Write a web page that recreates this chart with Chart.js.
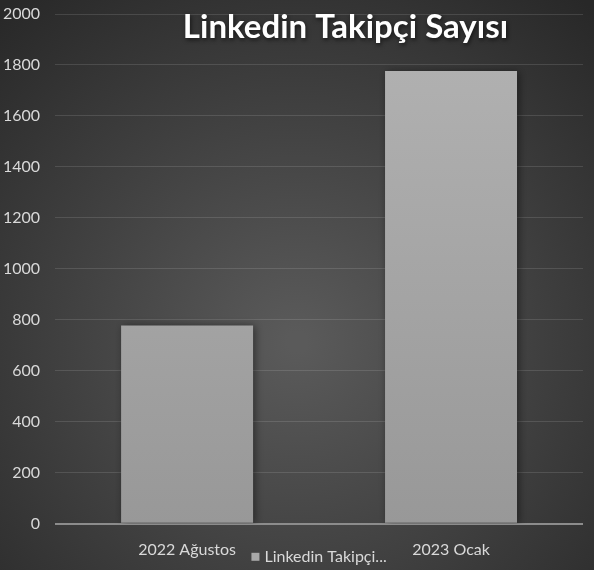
<!DOCTYPE html>
<html lang="tr">
<head>
  <meta charset="UTF-8" />
  <title>Linkedin Takipçi Sayısı</title>
  <script src="https://cdn.jsdelivr.net/npm/chart.js"></script>
  <style>
    html, body { margin: 0; padding: 0; background: #333; }
    #wrap { width: 594px; height: 570px; position: relative; }
  </style>
</head>
<body>
  <div id="wrap"><canvas id="takipciChart"></canvas></div>

  <script>
    // veriler
    const donemler = ['2022 Ağustos', '2023 Ocak'];
    const takipci = [778, 1776];
    const seriAdi = 'Linkedin Takipçi Sayısı';
    const baslik = 'Linkedin Takipçi Sayısı';

    const fontAile = 'Lato, "Open Sans", sans-serif';
    const yaziRengi = '#d9d9d9';

    // arka plan: koyu gri radyal degrade
    const arkaPlan = {
      id: 'arkaPlan',
      beforeDraw(chart) {
        const { ctx, width, height } = chart;
        const g = ctx.createRadialGradient(width * 0.5, height * 0.6, 10, width * 0.5, height * 0.6, width * 0.75);
        g.addColorStop(0, '#5a5a5a');
        g.addColorStop(1, '#282828');
        ctx.save();
        ctx.fillStyle = g;
        ctx.fillRect(0, 0, width, height);
        ctx.restore();
      }
    };

    // çubuk gölgesi
    const golge = {
      id: 'golge',
      beforeDatasetsDraw(chart) {
        const ctx = chart.ctx;
        ctx.save();
        ctx.shadowColor = 'rgba(0,0,0,0.45)';
        ctx.shadowBlur = 8;
        ctx.shadowOffsetX = 2;
        ctx.shadowOffsetY = 1;
      },
      afterDatasetsDraw(chart) {
        chart.ctx.restore();
      }
    };

    // başlık ve lejant (Excel gibi çizim alanının üstüne biniyor)
    const yazilar = {
      id: 'yazilar',
      afterDraw(chart) {
        const { ctx, chartArea } = chart;
        ctx.save();
        // başlık
        ctx.font = 'bold 33px ' + fontAile;
        ctx.textAlign = 'center';
        ctx.textBaseline = 'middle';
        ctx.shadowColor = 'rgba(0,0,0,0.6)';
        ctx.shadowBlur = 4;
        ctx.shadowOffsetX = 1;
        ctx.shadowOffsetY = 2;
        ctx.fillStyle = '#ffffff';
        ctx.fillText(baslik, chartArea.left + chartArea.width * 0.55, chartArea.top + 13);
        ctx.restore();

        // lejant
        ctx.save();
        ctx.font = '16px ' + fontAile;
        ctx.textBaseline = 'middle';
        let etiket = chart.data.datasets[0].label;
        const maxW = 130;
        if (ctx.measureText(etiket).width > maxW) {
          while (etiket.length && ctx.measureText(etiket + '...').width > maxW) etiket = etiket.slice(0, -1);
          etiket = etiket.trimEnd() + '...';
        }
        const tw = ctx.measureText(etiket).width;
        const kutu = 8, bosluk = 5;
        const toplam = kutu + bosluk + tw;
        const x0 = chartArea.left + chartArea.width / 2 - toplam / 2;
        const y0 = chartArea.bottom + 33;
        ctx.fillStyle = '#a8a8a8';
        ctx.fillRect(x0, y0 - kutu / 2, kutu, kutu);
        ctx.fillStyle = yaziRengi;
        ctx.textAlign = 'left';
        ctx.fillText(etiket, x0 + kutu + bosluk, y0);
        ctx.restore();
      }
    };

    const ctx = document.getElementById('takipciChart');
    new Chart(ctx, {
      type: 'bar',
      data: {
        labels: donemler,
        datasets: [{
          label: seriAdi,
          data: takipci,
          backgroundColor: (c) => {
            const area = c.chart.chartArea;
            if (!area) return '#ababab';
            const g = c.chart.ctx.createLinearGradient(0, area.top, 0, area.bottom);
            g.addColorStop(0, '#b3b3b3');
            g.addColorStop(1, '#989898');
            return g;
          },
          borderWidth: 0,
          barPercentage: 0.5,
          categoryPercentage: 1.0
        }]
      },
      options: {
        responsive: true,
        maintainAspectRatio: false,
        animation: false,
        layout: { padding: { left: -12, right: 11, top: 14, bottom: -5 } },
        plugins: {
          legend: { display: false },
          title: { display: false },
          tooltip: { enabled: false }
        },
        scales: {
          x: {
            grid: { display: false, drawTicks: false },
            border: { display: false },
            ticks: {
              color: yaziRengi,
              font: { family: fontAile, size: 16 },
              padding: 16
            }
          },
          y: {
            min: 0,
            max: 2000,
            afterFit: (s) => { s.paddingTop = 0; },
            ticks: {
              stepSize: 200,
              color: yaziRengi,
              font: { family: fontAile, size: 16 },
              padding: 15,
              callback: (v) => String(v)
            },
            grid: {
              drawTicks: false,
              color: (c) => c.tick && c.tick.value === 0 ? '#8c8c8c' : 'rgba(255,255,255,0.12)',
              lineWidth: (c) => c.tick && c.tick.value === 0 ? 2 : 1
            },
            border: { display: false }
          }
        }
      },
      plugins: [arkaPlan, golge, yazilar]
    });
  </script>
</body>
</html>
